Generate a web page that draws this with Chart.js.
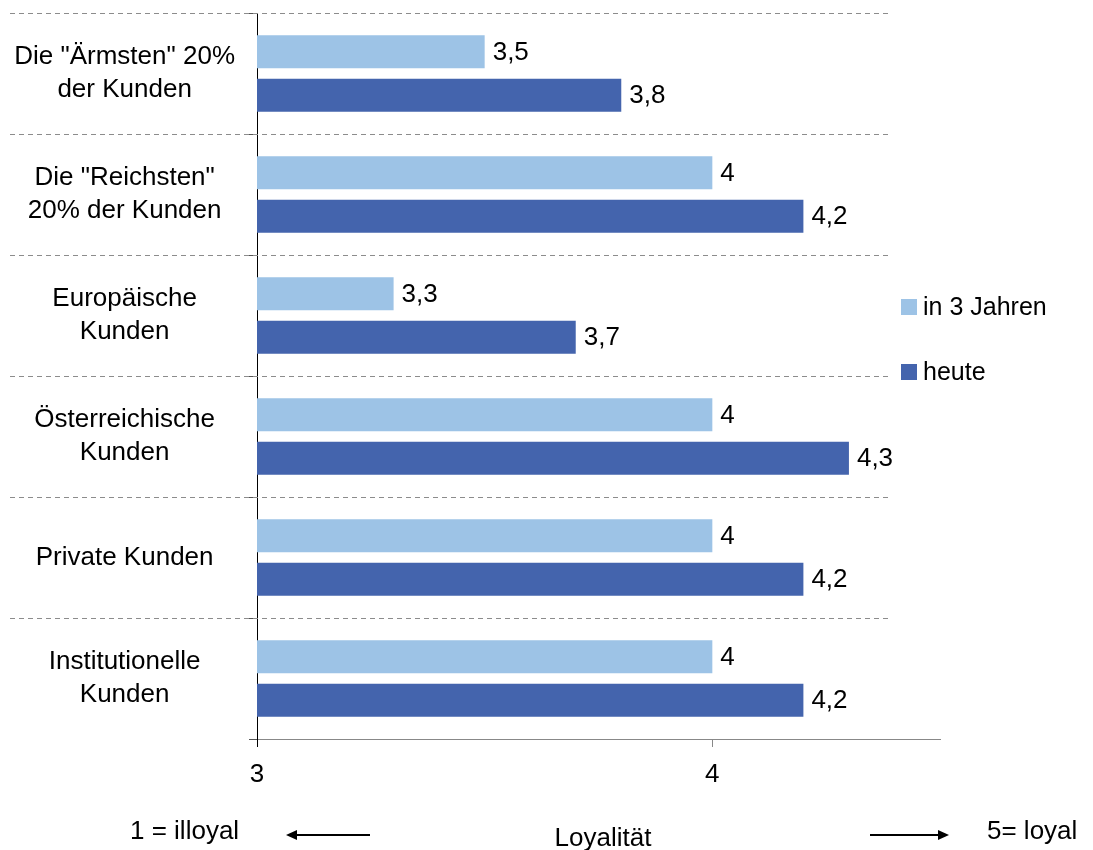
<!DOCTYPE html>
<html>
<head>
<meta charset="utf-8">
<script src="https://cdn.jsdelivr.net/npm/chart.js@4"></script>
<style>
  html, body { margin: 0; padding: 0; background: #fff; }
  #wrap { width: 1093px; height: 850px; }
</style>
</head>
<body>
<div id="wrap"><canvas id="loyalChart"></canvas></div>
<script>
// data
let categories = [
    ['Die "Ärmsten" 20%', 'der Kunden'],
    ['Die "Reichsten"', '20% der Kunden'],
    ['Europäische', 'Kunden'],
    ['Österreichische', 'Kunden'],
    'Private Kunden',
    ['Institutionelle', 'Kunden']
];
let inDreiJahren = [3.5, 4, 3.3, 4, 4, 4];
let heute = [3.8, 4.2, 3.7, 4.3, 4.2, 4.2];
let seriesNames = ['in 3 Jahren', 'heute'];
let seriesColors = ['#9dc3e6', '#4464ad'];
let xTicks = [3, 4];

let fontFamily = "'Liberation Sans', Arial, sans-serif";

function comma(v) {
    return String(v).replace('.', ',');
}

// dashed separators between the categories, reaching over the labels
let separatorLines = {
    id: 'separatorLines',
    beforeDatasetsDraw(chart) {
        let ctx = chart.ctx;
        let yScale = chart.scales.y;
        let half = (yScale.getPixelForValue(1) - yScale.getPixelForValue(0)) / 2;
        ctx.save();
        ctx.strokeStyle = '#8c8c8c';
        ctx.lineWidth = 1;
        ctx.setLineDash([5, 4]);
        categories.forEach((c, i) => {
            let y = Math.round(yScale.getPixelForValue(i) - half) + 0.5;
            ctx.beginPath();
            ctx.moveTo(10, y);
            ctx.lineTo(890, y);
            ctx.stroke();
        });
        ctx.restore();
    }
};

// value labels behind each bar
let valueLabels = {
    id: 'valueLabels',
    afterDatasetsDraw(chart) {
        let ctx = chart.ctx;
        ctx.save();
        ctx.font = '26px ' + fontFamily;
        ctx.fillStyle = '#000';
        ctx.textAlign = 'left';
        ctx.textBaseline = 'middle';
        chart.data.datasets.forEach((ds, di) => {
            chart.getDatasetMeta(di).data.forEach((bar, i) => {
                ctx.fillText(comma(ds.data[i]), bar.x + 8, bar.y + 1);
            });
        });
        ctx.restore();
    }
};

// legend on the right and the loyalty note under the axis
let extras = {
    id: 'extras',
    afterDraw(chart) {
        let ctx = chart.ctx;
        ctx.save();
        ctx.font = '25px ' + fontFamily;
        ctx.textBaseline = 'middle';
        ctx.textAlign = 'left';
        let legendY = [307, 372];
        seriesNames.forEach((name, i) => {
            ctx.fillStyle = seriesColors[i];
            ctx.fillRect(901, legendY[i] - 8, 16, 16);
            ctx.fillStyle = '#000';
            ctx.fillText(name, 923, legendY[i] + 1);
        });

        ctx.font = '26px ' + fontFamily;
        ctx.textBaseline = 'alphabetic';
        ctx.fillText('1 = illoyal', 130, 839);
        ctx.fillText('5= loyal', 987, 839);
        ctx.textAlign = 'center';
        ctx.fillText('Loyalität', 603, 846);

        // arrows
        ctx.strokeStyle = '#000';
        ctx.fillStyle = '#000';
        ctx.lineWidth = 2;
        ctx.beginPath();
        ctx.moveTo(293, 835);
        ctx.lineTo(370, 835);
        ctx.moveTo(870, 835);
        ctx.lineTo(942, 835);
        ctx.stroke();
        ctx.beginPath();
        ctx.moveTo(286, 835);
        ctx.lineTo(297, 830);
        ctx.lineTo(297, 840);
        ctx.closePath();
        ctx.fill();
        ctx.beginPath();
        ctx.moveTo(949, 835);
        ctx.lineTo(938, 830);
        ctx.lineTo(938, 840);
        ctx.closePath();
        ctx.fill();
        ctx.restore();
    }
};

let ctxLoyal = document.getElementById('loyalChart').getContext('2d');

new Chart(ctxLoyal, {
    type: 'bar',
    data: {
        labels: categories,
        datasets: [
            {
                label: seriesNames[0],
                data: inDreiJahren,
                backgroundColor: seriesColors[0],
                categoryPercentage: 0.717,
                barPercentage: 0.76
            },
            {
                label: seriesNames[1],
                data: heute,
                backgroundColor: seriesColors[1],
                categoryPercentage: 0.717,
                barPercentage: 0.76
            }
        ]
    },
    options: {
        indexAxis: 'y',
        responsive: true,
        maintainAspectRatio: false,
        animation: false,
        layout: {
            padding: { top: 13, right: 153, bottom: 51, left: 0 }
        },
        scales: {
            x: {
                min: 3,
                max: 4.5,
                afterFit: (scale) => {
                    scale.height = 60;
                    scale.paddingLeft = 0;
                    scale.paddingRight = 0;
                },
                afterBuildTicks: (scale) => {
                    scale.ticks = xTicks.map(v => ({ value: v }));
                },
                ticks: {
                    font: { family: fontFamily, size: 26 },
                    color: '#000',
                    padding: 12,
                    maxRotation: 0,
                    callback: (v) => comma(v)
                },
                grid: {
                    drawOnChartArea: false,
                    drawTicks: true,
                    tickLength: 8,
                    tickColor: (c) => (c.tick && c.tick.value === 3) ? '#000' : '#888'
                },
                border: { color: '#888', width: 1 }
            },
            y: {
                afterFit: (scale) => {
                    scale.width = 257;
                    scale.paddingTop = 0;
                    scale.paddingBottom = 0;
                },
                ticks: {
                    font: { family: fontFamily, size: 26, lineHeight: 1.25 },
                    color: '#000',
                    crossAlign: 'center',
                    padding: 14
                },
                grid: {
                    offset: true,
                    drawOnChartArea: false,
                    drawTicks: true,
                    tickLength: 8,
                    tickColor: '#555'
                },
                border: { color: '#000', width: 1 }
            }
        },
        plugins: {
            legend: { display: false },
            tooltip: { enabled: false }
        }
    },
    plugins: [separatorLines, valueLabels, extras]
});
</script>
</body>
</html>
